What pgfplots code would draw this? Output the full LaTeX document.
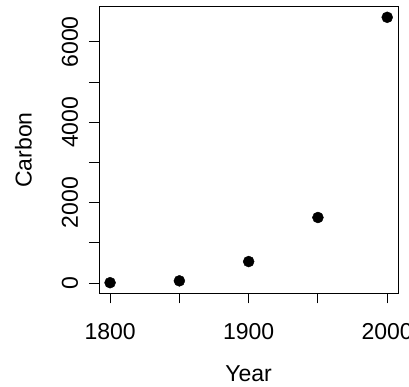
\documentclass[border=0pt]{standalone}
\usepackage{pgfplots}
\pgfplotsset{compat=1.18}
\usepackage{fontspec}
\setmainfont{Liberation Sans}
\newcommand{\rfont}{\fontsize{23}{27}\selectfont}
\begin{document}
\rfont
\begin{tikzpicture}[x=1pt,y=1pt]
\useasboundingbox (0,0) rectangle (409,386);
\begin{axis}[
  at={(99pt,92.7pt)}, anchor=south west,
  scale only axis, width=299.3pt, height=286.6pt,
  xmin=1792, xmax=2008, ymin=-256, ymax=6875,
  axis line style={line width=1pt, black},
  xtick={1800,1850,1900,1950,2000},
  xticklabels={1800,,1900,,2000},
  ytick={0,1000,2000,3000,4000,5000,6000},
  yticklabels={0,,2000,,4000,,6000},
  xtick pos=left, ytick pos=left,
  tick align=outside, major tick length=10pt,
  tick style={line width=1pt, black},
  tick label style={font=\rfont},
  xticklabel style={anchor=base, yshift=-36.4pt},
  yticklabel style={rotate=90, anchor=base},
  yticklabel shift=11pt,
  label style={font=\rfont},
  xlabel={Year}, ylabel={Carbon},
  xlabel style={at={(axis description cs:0.5,-0.3084)}, anchor=base},
  ylabel style={at={(axis description cs:-0.2249,0.5)}, anchor=base},
  scaled ticks=false,
]
\addplot[only marks, mark=*, mark size=5.5pt, black] coordinates {
  (1800,8) (1850,54) (1900,534) (1950,1630) (2000,6611)
};
\end{axis}
\end{tikzpicture}
\end{document}
